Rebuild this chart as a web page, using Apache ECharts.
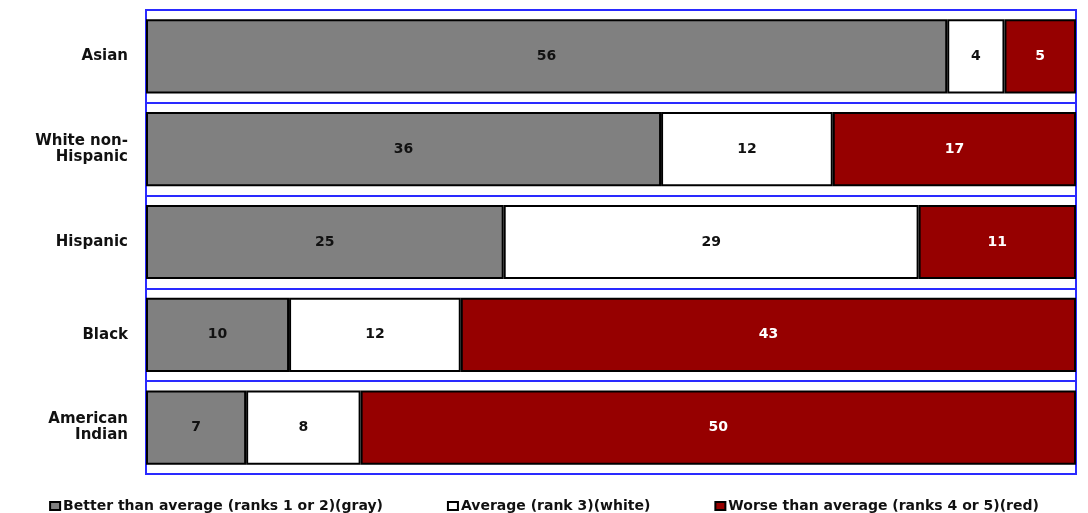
<!DOCTYPE html>
<html>
<head>
<meta charset="utf-8">
<script src="https://cdn.jsdelivr.net/npm/echarts@6/dist/echarts.min.js"></script>
<style>
  html, body { margin: 0; padding: 0; background: #fff; }
  #chart { width: 1088px; height: 513px; }
</style>
</head>
<body>
<div id="chart"></div>
<script>
var categories = ["Asian", "White non-\nHispanic", "Hispanic", "Black", "American\nIndian"];
var betterVals = [56, 36, 25, 10, 7];
var averageVals = [4, 12, 29, 12, 8];
var worseVals = [5, 17, 11, 43, 50];
var seriesNames = [
  "Better than average (ranks 1 or 2)(gray)",
  "Average (rank 3)(white)",
  "Worse than average (ranks 4 or 5)(red)"
];

var chart = echarts.init(document.getElementById("chart"));

function barSeries(name, data, fill, labelColor) {
  return {
    name: name,
    type: "bar",
    stack: "total",
    barCategoryGap: "20%",
    data: data,
    itemStyle: { color: fill, borderColor: "#000", borderWidth: 2 },
    label: {
      show: true,
      position: "inside",
      color: labelColor,
      fontWeight: "bold",
      fontSize: 14
    }
  };
}

var option = {
  animation: false,
  textStyle: { fontFamily: "DejaVu Sans" },
  grid: {
    left: 146,
    right: 12,
    top: 10,
    bottom: 39,
    show: true,
    borderColor: "#2a2aff",
    borderWidth: 2
  },
  legend: {
    top: 494,
    left: "center",
    icon: "rect",
    itemWidth: 10,
    itemHeight: 8,
    itemGap: 64,
    textStyle: { fontSize: 14, fontWeight: "bold", color: "#111", padding: [0, 0, 0, -2] },
    data: seriesNames
  },
  xAxis: {
    type: "value",
    min: 0,
    max: 65,
    show: false
  },
  yAxis: {
    type: "category",
    inverse: true,
    data: categories,
    axisLine: { show: false },
    axisTick: { show: false },
    splitLine: { show: true, lineStyle: { color: "#2a2aff", width: 2 } },
    axisLabel: {
      margin: 18,
      color: "#111",
      fontWeight: "bold",
      fontSize: 15,
      lineHeight: 16
    }
  },
  series: [
    barSeries(seriesNames[0], betterVals, "#808080", "#111"),
    barSeries(seriesNames[1], averageVals, "#ffffff", "#111"),
    barSeries(seriesNames[2], worseVals, "#960000", "#fff")
  ]
};

chart.setOption(option);
window.addEventListener("resize", function () {
  chart.resize();
});
</script>
</body>
</html>
